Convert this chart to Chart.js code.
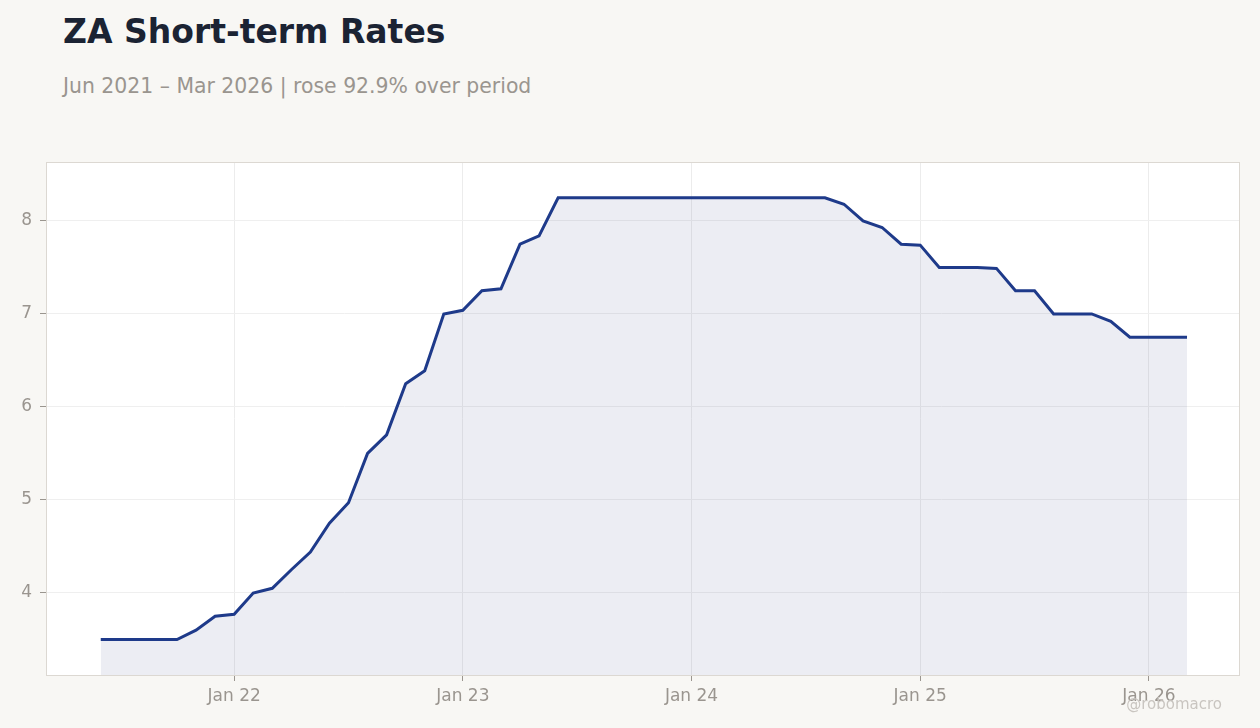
<!DOCTYPE html>
<html>
<head>
<meta charset="utf-8">
<script src="https://cdn.jsdelivr.net/npm/chart.js@4/dist/chart.umd.min.js"></script>
<style>
  html, body { margin: 0; padding: 0; background: #f8f7f4; }
  body { width: 1260px; height: 728px; position: relative; overflow: hidden; font-family: "DejaVu Sans", sans-serif; }
  #title { position: absolute; left: 63px; top: 15px; font-size: 33px; line-height: 33px; font-weight: bold; color: #1b2333; white-space: nowrap; }
  #subtitle { position: absolute; left: 63px; top: 76px; font-size: 20.4px; line-height: 20px; color: #9a958f; white-space: nowrap; }
  #wrap { position: absolute; left: 0; top: 150px; width: 1260px; height: 578px; }
  #mark { position: absolute; right: 38px; top: 697px; font-size: 15px; line-height: 15px; color: #c9c5c0; white-space: nowrap; }
</style>
</head>
<body>
<div id="title">ZA Short-term Rates</div>
<div id="subtitle">Jun 2021 – Mar 2026 | rose 92.9% over period</div>
<div id="wrap"><canvas id="rates"></canvas></div>
<div id="mark">@robomacro</div>
<script>
// monthly, Jun 2021 .. Mar 2026
const months = [
  'Jun 21','Jul 21','Aug 21','Sep 21','Oct 21','Nov 21','Dec 21',
  'Jan 22','Feb 22','Mar 22','Apr 22','May 22','Jun 22','Jul 22','Aug 22','Sep 22','Oct 22','Nov 22','Dec 22',
  'Jan 23','Feb 23','Mar 23','Apr 23','May 23','Jun 23','Jul 23','Aug 23','Sep 23','Oct 23','Nov 23','Dec 23',
  'Jan 24','Feb 24','Mar 24','Apr 24','May 24','Jun 24','Jul 24','Aug 24','Sep 24','Oct 24','Nov 24','Dec 24',
  'Jan 25','Feb 25','Mar 25','Apr 25','May 25','Jun 25','Jul 25','Aug 25','Sep 25','Oct 25','Nov 25','Dec 25',
  'Jan 26','Feb 26','Mar 26'
];
const rates = [
  3.50, 3.50, 3.50, 3.50, 3.50, 3.60, 3.75,
  3.77, 4.00, 4.05, 4.25, 4.44, 4.75, 4.97, 5.50, 5.70, 6.25, 6.39, 7.00,
  7.04, 7.25, 7.27, 7.75, 7.84, 8.25, 8.25, 8.25, 8.25, 8.25, 8.25, 8.25,
  8.25, 8.25, 8.25, 8.25, 8.25, 8.25, 8.25, 8.25, 8.18, 8.00, 7.93, 7.75,
  7.74, 7.50, 7.50, 7.50, 7.49, 7.25, 7.25, 7.00, 7.00, 7.00, 6.92, 6.75,
  6.75, 6.75, 6.75
];
const tickLabels = ['Jan 22', 'Jan 23', 'Jan 24', 'Jan 25', 'Jan 26'];
const yTicks = [4, 5, 6, 7, 8];

const tickIdx = tickLabels.map(t => months.indexOf(t));
const points = rates.map((v, i) => ({ x: i, y: v }));

const frame = {
  id: 'frame',
  beforeDraw(chart) {
    const a = chart.chartArea, ctx = chart.ctx;
    ctx.save();
    ctx.fillStyle = '#ffffff';
    ctx.fillRect(a.left, a.top, a.right - a.left, a.bottom - a.top);
    ctx.restore();
  },
  afterDraw(chart) {
    const a = chart.chartArea, ctx = chart.ctx;
    ctx.save();
    ctx.strokeStyle = '#dcd8d2';
    ctx.lineWidth = 1;
    ctx.strokeRect(a.left + 0.5, a.top + 0.5, a.right - a.left - 1, a.bottom - a.top);
    ctx.restore();
  }
};

const tickFont = { family: 'DejaVu Sans', size: 17 };

new Chart(document.getElementById('rates'), {
  type: 'line',
  data: {
    datasets: [{
      data: points,
      borderColor: '#1e3a8a',
      borderWidth: 3,
      backgroundColor: 'rgba(65, 75, 135, 0.1)',
      fill: 'start',
      pointRadius: 0,
      tension: 0
    }]
  },
  options: {
    responsive: true,
    maintainAspectRatio: false,
    animation: false,
    layout: { padding: { top: 12, right: 20, left: 0, bottom: 0 } },
    plugins: { legend: { display: false }, tooltip: { enabled: false } },
    scales: {
      x: {
        type: 'linear',
        min: -2.873,
        max: 59.78,
        afterFit(s) { s.height = 53; s.paddingLeft = 0; s.paddingRight = 0; },
        afterBuildTicks(s) { s.ticks = tickIdx.map(v => ({ value: v })); },
        ticks: {
          color: '#9a958f',
          font: tickFont,
          padding: 5,
          maxRotation: 0,
          callback: v => tickLabels[tickIdx.indexOf(v)]
        },
        grid: { color: '#ececec', tickColor: '#9a958f', tickLength: 6 },
        border: { display: false }
      },
      y: {
        min: 3.118,
        max: 8.634,
        afterFit(s) { s.width = 46; s.paddingTop = 0; s.paddingBottom = 0; },
        afterBuildTicks(s) { s.ticks = yTicks.map(v => ({ value: v })); },
        ticks: { color: '#9a958f', font: tickFont, padding: 8 },
        grid: { color: '#efefef', tickColor: '#9a958f', tickLength: 6 },
        border: { display: false }
      }
    }
  },
  plugins: [frame]
});
</script>
</body>
</html>
